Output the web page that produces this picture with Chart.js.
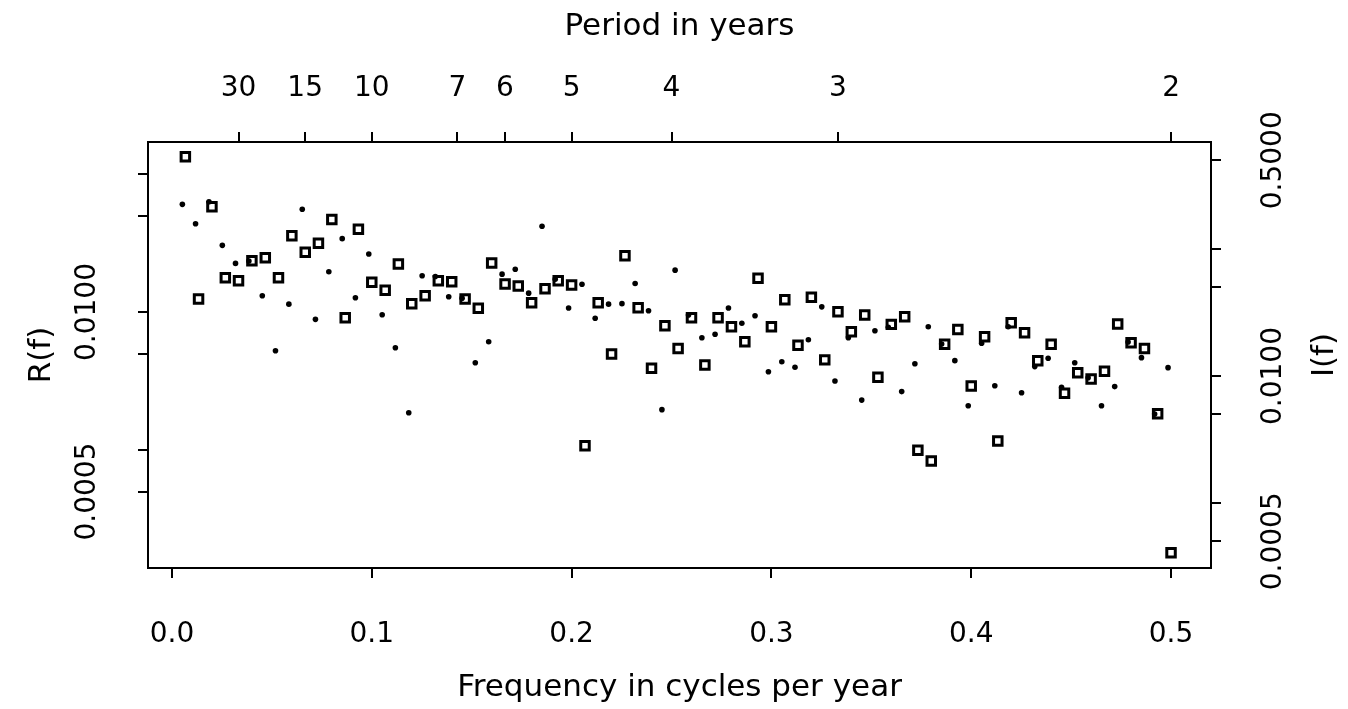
<!DOCTYPE html>
<html>
<head>
<meta charset="utf-8">
<script src="https://cdn.jsdelivr.net/npm/chart.js@4/dist/chart.umd.min.js"></script>
<style>
  html, body { margin: 0; padding: 0; background: #fff; }
  canvas { display: block; }
</style>
</head>
<body>
<canvas id="chart" width="1348" height="709"></canvas>
<script>
// periodogram I(f), open squares, right axis
const freqI = [0.0067, 0.0133, 0.0200, 0.0267, 0.0333, 0.0400, 0.0467, 0.0533, 0.0600, 0.0667,
  0.0733, 0.0800, 0.0867, 0.0933, 0.1000, 0.1067, 0.1133, 0.1200, 0.1267, 0.1333,
  0.1400, 0.1467, 0.1533, 0.1600, 0.1667, 0.1733, 0.1800, 0.1867, 0.1933, 0.2000,
  0.2067, 0.2133, 0.2200, 0.2267, 0.2333, 0.2400, 0.2467, 0.2533, 0.2600, 0.2667,
  0.2733, 0.2800, 0.2867, 0.2933, 0.3000, 0.3067, 0.3133, 0.3200, 0.3267, 0.3333,
  0.3400, 0.3467, 0.3533, 0.3600, 0.3667, 0.3733, 0.3800, 0.3867, 0.3933, 0.4000,
  0.4067, 0.4133, 0.4200, 0.4267, 0.4333, 0.4400, 0.4467, 0.4533, 0.4600, 0.4667,
  0.4733, 0.4800, 0.4867, 0.4933, 0.5000];
const valuesI = [0.533, 0.0404, 0.215, 0.0594, 0.0563, 0.0809, 0.0854, 0.0594, 0.127, 0.0942,
  0.111, 0.171, 0.0288, 0.143, 0.0547, 0.0473, 0.0762, 0.0370, 0.0429, 0.0563,
  0.0553, 0.0404, 0.0341, 0.0776, 0.0530, 0.0511, 0.0378, 0.0487, 0.0563, 0.0521,
  0.00283, 0.0378, 0.0149, 0.0886, 0.0345, 0.0115, 0.0249, 0.0165, 0.0288, 0.0122,
  0.0288, 0.0244, 0.0186, 0.0588, 0.0244, 0.0399, 0.0175, 0.0417, 0.0134, 0.0321,
  0.0223, 0.0302, 0.00977, 0.0255, 0.0293, 0.00260, 0.00214, 0.0178, 0.0232, 0.00834,
  0.0204, 0.00308, 0.0263, 0.0219, 0.0132, 0.0178, 0.00731, 0.0106, 0.00947, 0.0109,
  0.0257, 0.0183, 0.0165, 0.00505, 0.000406];

// R(f), small dots, left axis
const freqR = [0.0052, 0.0118, 0.0185, 0.0252, 0.0318, 0.0385, 0.0452, 0.0518, 0.0585, 0.0652,
  0.0718, 0.0785, 0.0852, 0.0918, 0.0985, 0.1052, 0.1118, 0.1185, 0.1252, 0.1318,
  0.1385, 0.1452, 0.1518, 0.1585, 0.1652, 0.1718, 0.1785, 0.1852, 0.1918, 0.1985,
  0.2052, 0.2118, 0.2185, 0.2252, 0.2318, 0.2385, 0.2452, 0.2518, 0.2585, 0.2652,
  0.2718, 0.2785, 0.2852, 0.2918, 0.2985, 0.3052, 0.3118, 0.3185, 0.3252, 0.3318,
  0.3385, 0.3452, 0.3518, 0.3585, 0.3652, 0.3718, 0.3785, 0.3852, 0.3918, 0.3985,
  0.4052, 0.4118, 0.4185, 0.4252, 0.4318, 0.4385, 0.4452, 0.4518, 0.4585, 0.4652,
  0.4718, 0.4785, 0.4852, 0.4918, 0.4985];
const valuesR = [0.0603, 0.0436, 0.0630, 0.0304, 0.0225, 0.0234, 0.0131, 0.00524, 0.0114, 0.0555,
  0.00885, 0.0196, 0.0340, 0.0127, 0.0263, 0.00956, 0.00551, 0.00186, 0.0183, 0.0181,
  0.0129, 0.0126, 0.00429, 0.00609, 0.0188, 0.0204, 0.0137, 0.0418, 0.0173, 0.0107,
  0.0159, 0.00900, 0.0114, 0.0115, 0.0161, 0.0102, 0.00196, 0.0201, 0.00951, 0.00651,
  0.00690, 0.0107, 0.00828, 0.00940, 0.00369, 0.00436, 0.00398, 0.00630, 0.0109, 0.00316,
  0.00651, 0.00230, 0.00732, 0.00775, 0.00265, 0.00422, 0.00782, 0.00586, 0.00444, 0.00209,
  0.00593, 0.00292, 0.00782, 0.00260, 0.00402, 0.00462, 0.00285, 0.00429, 0.00334, 0.00209,
  0.00288, 0.00606, 0.00467, 0.00182, 0.00395];

// axis ticks
const freqTicks = [0, 0.1, 0.2, 0.3, 0.4, 0.5];
const periodTicks = [30, 15, 10, 7, 6, 5, 4, 3, 2];
const leftTicks = [0.0005, 0.001, 0.005, 0.01, 0.05, 0.1];
const leftLabels = {0.0005: '0.0005', 0.01: '0.0100'};
const rightTicks = [0.0005, 0.001, 0.005, 0.01, 0.05, 0.1, 0.5];
const rightLabels = {0.0005: '0.0005', 0.01: '0.0100', 0.5: '0.5000'};

const FONT = 'DejaVu Sans';
const tickFont = { family: FONT, size: 28 };
const titleFont = { family: FONT, size: 31 };
const axisGrid = { drawOnChartArea: false, drawTicks: true, tickLength: 10, color: '#000', lineWidth: 2 };
const axisBorder = { display: true, color: '#000', width: 2 };

// R style: the right-hand label reads bottom to top
const rightTitle = {
  id: 'rightTitle',
  afterDraw(chart) {
    const s = chart.scales.yI;
    const ctx = chart.ctx;
    ctx.save();
    ctx.translate(s.right - 23, (s.top + s.bottom) / 2);
    ctx.rotate(-Math.PI / 2);
    ctx.font = titleFont.size + 'px ' + FONT;
    ctx.fillStyle = '#000';
    ctx.textAlign = 'center';
    ctx.textBaseline = 'middle';
    ctx.fillText('I(f)', 0, 0);
    ctx.restore();
  }
};

new Chart(document.getElementById('chart'), {
  type: 'scatter',
  data: {
    datasets: [
      {
        label: 'I(f)',
        data: freqI.map((f, i) => ({ x: f, y: valuesI[i] })),
        xAxisID: 'x',
        yAxisID: 'yI',
        pointStyle: 'rect',
        pointRadius: 6,
        pointBorderWidth: 3,
        pointBorderColor: '#000',
        pointBackgroundColor: 'rgba(0,0,0,0)'
      },
      {
        label: 'R(f)',
        data: freqR.map((f, i) => ({ x: f, y: valuesR[i] })),
        xAxisID: 'x',
        yAxisID: 'yR',
        pointStyle: 'circle',
        pointRadius: 2.8,
        pointBorderWidth: 0,
        pointBorderColor: '#000',
        pointBackgroundColor: '#000'
      }
    ]
  },
  options: {
    responsive: false,
    animation: false,
    devicePixelRatio: 1,
    layout: { padding: 0 },
    plugins: { legend: { display: false }, tooltip: { enabled: false } },
    scales: {
      x: {
        type: 'linear', position: 'bottom', bounds: 'data',
        min: -0.012, max: 0.520,
        afterBuildTicks: s => { s.ticks = freqTicks.map(v => ({ value: v })); },
        afterFit: s => { s.height = 141; },
        ticks: { autoSkip: false, maxRotation: 0, padding: 40, color: '#000', font: tickFont,
          callback: v => v.toFixed(1) },
        grid: axisGrid, border: axisBorder,
        title: { display: true, text: 'Frequency in cycles per year', color: '#000', font: titleFont,
          padding: { top: 0, bottom: 2 } }
      },
      x2: {
        type: 'linear', position: 'top', bounds: 'data',
        min: -0.012, max: 0.520,
        afterBuildTicks: s => { s.ticks = periodTicks.map(p => ({ value: 1 / p })); },
        afterFit: s => { s.height = 142; },
        ticks: { autoSkip: false, maxRotation: 0, padding: 26, color: '#000', font: tickFont,
          callback: (v, i) => String(periodTicks[i]) },
        grid: axisGrid, border: axisBorder,
        title: { display: true, text: 'Period in years', color: '#000', font: titleFont,
          padding: { top: 8, bottom: 0 } }
      },
      yR: {
        type: 'logarithmic', position: 'left', bounds: 'data',
        min: 0.0001396, max: 0.1706,
        afterBuildTicks: s => { s.ticks = leftTicks.map(v => ({ value: v })); },
        afterFit: s => { s.width = 148; },
        ticks: { autoSkip: false, minRotation: 90, maxRotation: 90, crossAlign: 'center', padding: 1,
          color: '#000', font: tickFont, callback: v => leftLabels[v] || '' },
        grid: axisGrid, border: axisBorder,
        title: { display: true, text: 'R(f)', color: '#000', font: titleFont, padding: { top: 23, bottom: 0 } }
      },
      yI: {
        type: 'logarithmic', position: 'right', bounds: 'data',
        min: 0.0003078, max: 0.696,
        afterBuildTicks: s => { s.ticks = rightTicks.map(v => ({ value: v })); },
        afterFit: s => { s.width = 137; },
        ticks: { autoSkip: false, minRotation: 90, maxRotation: 90, crossAlign: 'center', padding: 4,
          color: '#000', font: tickFont, callback: v => rightLabels[v] || '' },
        grid: axisGrid, border: axisBorder,
        title: { display: false }
      }
    }
  },
  plugins: [rightTitle]
});
</script>
</body>
</html>
